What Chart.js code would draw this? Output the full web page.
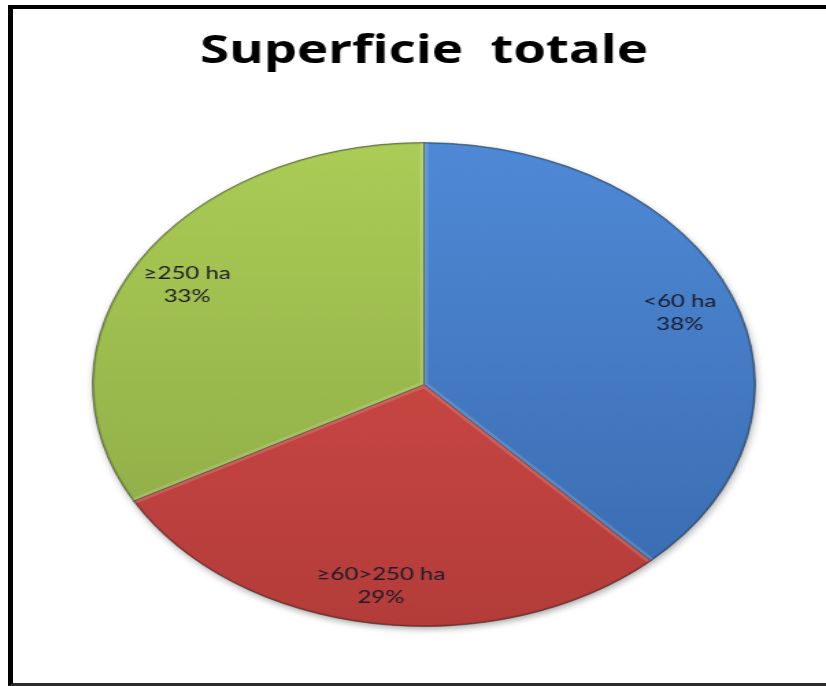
<!DOCTYPE html>
<html>
<head>
<meta charset="utf-8">
<script src="https://cdn.jsdelivr.net/npm/chart.js@4.4.1/dist/chart.umd.min.js"></script>
<style>
  html, body { margin: 0; padding: 0; background: #fff; overflow: hidden; }
  #wrap { position: relative; width: 826px; height: 686px; overflow: hidden; }
  /* the chart is drawn on a narrower canvas and widened to the full page */
  #c { position: absolute; left: 0; top: 0; transform-origin: 0 0; transform: scaleX(1.36982); }
  #frame {
    position: absolute; left: 8px; top: 5px; width: 840px; height: 674px;
    border-left: 5px solid #000; border-top: 4px solid #000; border-bottom: 3px solid #2b2b2b;
    pointer-events: none;
  }
</style>
</head>
<body>
<div id="wrap">
  <canvas id="c" width="603" height="686"></canvas>
  <div id="frame"></div>
</div>
<script>
// Size classes and their share of the total area (percent)
const categories = ['<60 ha', '≥60>250 ha', '≥250 ha'];
const shares = [38, 29, 33];

// Top / bottom shades of each slice's vertical gradient
const sliceTop = ['#4f89d6', '#da4f4b', '#abcc56'];
const sliceBottom = ['#386aae', '#b33c39', '#8aa744'];

function sliceFill(ctx) {
  const i = ctx.dataIndex;
  const area = ctx.chart.chartArea;
  if (!area) return sliceTop[i];
  const g = ctx.chart.ctx.createLinearGradient(0, area.top, 0, area.bottom);
  g.addColorStop(0, sliceTop[i]);
  g.addColorStop(1, sliceBottom[i]);
  return g;
}

function slicePath(ctx, el) {
  ctx.beginPath();
  ctx.moveTo(el.x, el.y);
  ctx.arc(el.x, el.y, el.outerRadius, el.startAngle, el.endAngle);
  ctx.closePath();
}

// Drop shadow under the pie, bevelled slice edges and the in-slice labels.
const pieDecor = {
  id: 'pieDecor',
  beforeDatasetsDraw(chart) {
    const el = chart.getDatasetMeta(0).data[0];
    const ctx = chart.ctx;
    ctx.save();
    ctx.shadowColor = 'rgba(0,0,0,0.4)';
    ctx.shadowBlur = 7;
    ctx.shadowOffsetX = 1;
    ctx.shadowOffsetY = 3;
    ctx.beginPath();
    ctx.arc(el.x, el.y, el.outerRadius - 1, 0, Math.PI * 2);
    ctx.fillStyle = '#666';
    ctx.fill();
    ctx.restore();
  },
  afterDatasetsDraw(chart) {
    const ctx = chart.ctx;
    const meta = chart.getDatasetMeta(0);
    // bevel: light band inside the straight edges, slightly darker rim on the curve
    meta.data.forEach((el) => {
      ctx.save();
      slicePath(ctx, el);
      ctx.clip();
      ctx.beginPath();
      ctx.moveTo(el.x + Math.cos(el.startAngle) * el.outerRadius, el.y + Math.sin(el.startAngle) * el.outerRadius);
      ctx.lineTo(el.x, el.y);
      ctx.lineTo(el.x + Math.cos(el.endAngle) * el.outerRadius, el.y + Math.sin(el.endAngle) * el.outerRadius);
      ctx.lineJoin = 'round';
      ctx.lineWidth = 6;
      ctx.strokeStyle = 'rgba(255,255,255,0.15)';
      ctx.stroke();
      ctx.beginPath();
      ctx.arc(el.x, el.y, el.outerRadius, el.startAngle, el.endAngle);
      ctx.lineWidth = 3;
      ctx.strokeStyle = 'rgba(0,0,0,0.16)';
      ctx.stroke();
      ctx.restore();
    });
    const ds = chart.data.datasets[0];
    ctx.save();
    ctx.font = '17.5px Lato';
    ctx.fillStyle = '#1b1b2a';
    ctx.textAlign = 'center';
    ctx.textBaseline = 'middle';
    meta.data.forEach((el, i) => {
      const mid = (el.startAngle + el.endAngle) / 2;
      const r = el.outerRadius * 0.83;
      const x = el.x + Math.cos(mid) * r;
      const y = el.y + Math.sin(mid) * r;
      ctx.fillText(chart.data.labels[i], x, y - 9);
      ctx.fillText(ds.data[i] + '%', x, y + 14);
    });
    ctx.restore();
  }
};

new Chart(document.getElementById('c'), {
  type: 'pie',
  data: {
    labels: categories,
    datasets: [{
      data: shares,
      backgroundColor: sliceFill,
      borderColor: 'rgba(20,30,20,0.45)',
      borderWidth: 1,
      hoverOffset: 0,
      clip: false
    }]
  },
  options: {
    responsive: false,
    animation: false,
    events: [],
    layout: { padding: { left: 67, right: 51, top: 0, bottom: 59 } },
    plugins: {
      legend: { display: false },
      tooltip: { enabled: false },
      title: {
        display: true,
        text: 'Superficie  totale',
        color: '#000',
        font: { family: 'Open Sans', size: 38.5, weight: 'bold', lineHeight: 1.2 },
        padding: { top: 29, bottom: 66.8 }
      }
    }
  },
  plugins: [pieDecor]
});
</script>
</body>
</html>
